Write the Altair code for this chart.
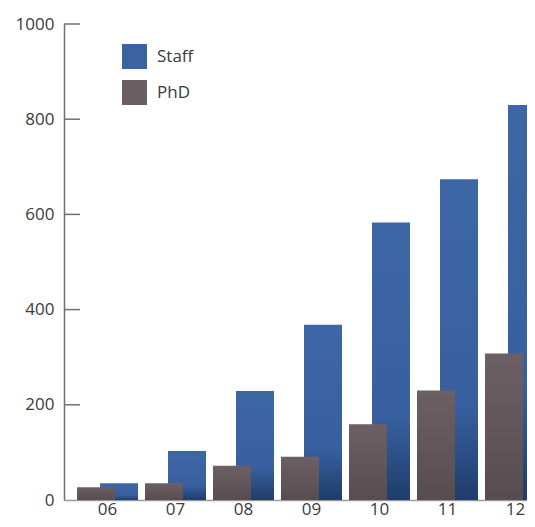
import altair as alt
import pandas as pd

years = ["06", "07", "08", "09", "10", "11", "12"]
staff = [35, 103, 229, 368, 583, 674, 830]
phd = [27, 35, 72, 91, 159, 230, 308]
series = ["Staff", "PhD"]
colors = ["#3b63a1", "#6a5e62"]
y_ticks = [200, 400, 600, 800, 1000]

df = pd.DataFrame({"year": years, "Staff": staff, "PhD": phd})
ticks_df = pd.DataFrame({"v": y_ticks})
legend_df = pd.DataFrame({"series": series})

FONT = "Open Sans"

xscale = alt.Scale(domain=years, range=[0, 495], paddingInner=0, paddingOuter=0.14)
yscale = alt.Scale(domain=[0, 1000], nice=False)

staff_grad = alt.LinearGradient(
    gradient="linear", x1=0, y1=0, x2=0, y2=1,
    stops=[alt.GradientStop(offset=0, color="#3d66a5"),
           alt.GradientStop(offset=0.7, color="#3860a0"),
           alt.GradientStop(offset=1, color="#1f3d6c")])
phd_grad = alt.LinearGradient(
    gradient="linear", x1=0, y1=0, x2=0, y2=1,
    stops=[alt.GradientStop(offset=0, color="#6c6064"),
           alt.GradientStop(offset=1, color="#574c50")])

xaxis = alt.Axis(title=None, ticks=False, labelFont=FONT, labelFontSize=17,
                 labelColor="#3a3a3a", labelPadding=1, domainColor="#9a9a9a",
                 domainWidth=1.5, labelAngle=0, grid=False)
yaxis = alt.Axis(title=None, ticks=False, labelFont=FONT, labelFontSize=17,
                 labelColor="#3a3a3a", labelPadding=10, domainColor="#707070",
                 domainWidth=1.5, values=[0, 200, 400, 600, 800, 1000], format="d",
                 grid=False)

staff_bars = alt.Chart(df).mark_bar(size=38, xOffset=11.5, color=staff_grad).encode(
    x=alt.X("year:N", scale=xscale, axis=xaxis, sort=years),
    y=alt.Y("Staff:Q", scale=yscale, axis=yaxis),
)
phd_bars = alt.Chart(df).mark_bar(size=38, xOffset=-11.5, color=phd_grad).encode(
    x=alt.X("year:N", scale=xscale, sort=years),
    y=alt.Y("PhD:Q", scale=yscale),
)
tick_rules = alt.Chart(ticks_df).mark_rule(color="#707070", strokeWidth=1.5).encode(
    x=alt.value(0), x2=alt.value(16), y=alt.Y("v:Q", scale=yscale)
)
legend_layer = alt.Chart(legend_df).transform_filter("false").mark_square(filled=True).encode(
    color=alt.Color("series:N", scale=alt.Scale(domain=series, range=colors),
                    legend=alt.Legend(title=None, orient="none", legendX=58, legendY=20,
                                      symbolType="square", symbolSize=625,
                                      symbolStrokeWidth=0, symbolOpacity=1,
                                      labelFont=FONT, labelFontSize=17,
                                      labelColor="#3a3a3a", labelOffset=10,
                                      rowPadding=11, padding=0))
)

chart = alt.layer(staff_bars, phd_bars, tick_rules, legend_layer).properties(
    width=463, height=476,
    autosize=alt.AutoSizeParams(type="none"),
    padding={"left": 56, "top": 16, "right": 0, "bottom": 19},
).configure_view(stroke=None)

chart.save("out.html", embed_options={"renderer": "svg", "actions": False})
